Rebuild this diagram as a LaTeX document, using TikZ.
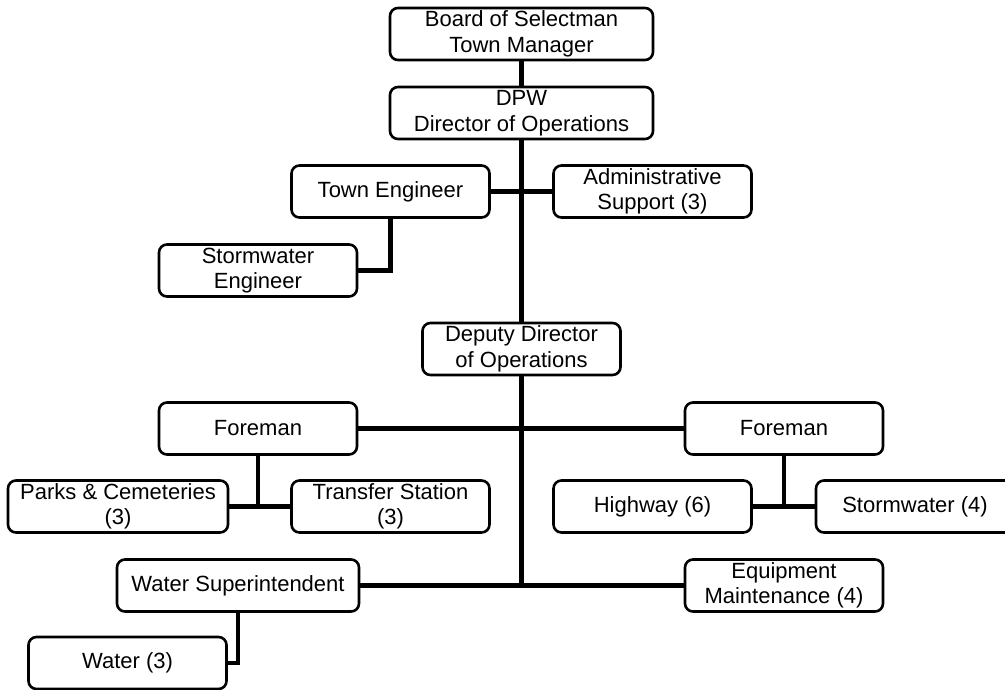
\documentclass[tikz,border=0pt]{standalone}
\usepackage{fontspec}
\setmainfont{Liberation Sans}
\usetikzlibrary{positioning, calc, backgrounds}

\begin{document}
\begin{tikzpicture}[
                x=1pt, y=-1pt,
                font=\fontsize{22}{25.5}\selectfont,
                unit/.style={draw, line width=2.6pt, rounded corners=8pt, fill=white, minimum width=198pt, minimum height=52pt, align=center, inner sep=0pt},
                wide/.style={unit, minimum width=263pt},
                link/.style={line width=4.5pt, line cap=rect}
            ]
                \clip (0,0) rectangle (1005,689);
                \node[wide] (board) at (521.5,34) {Board of Selectman\\Town Manager};
                \node[wide] (dpw) at (521.5,113) {DPW\\Director of Operations};
                \node[unit] (towneng) at (390.5,191.5) {Town Engineer};
                \node[unit] (admin) at (652.5,191.5) {Administrative\\Support (3)};
                \node[unit] (swe) at (258,270.5) {Stormwater\\Engineer};
                \node[unit] (deputy) at (521.5,349) {Deputy Director\\of Operations};
                \node[unit] (foremanl) at (258,428.5) {Foreman};
                \node[unit] (foremanr) at (784,428.5) {Foreman};
                \node[unit, minimum width=220pt] (parks) at (118,506.5) {Parks \& Cemeteries\\(3)};
                \node[unit] (transfer) at (390.5,506.5) {Transfer Station\\(3)};
                \node[unit] (highway) at (652.5,506.5) {Highway (6)};
                \node[unit] (storm) at (915,506.5) {Stormwater (4)};
                \node[unit, minimum width=242pt] (watersup) at (238,585.5) {Water Superintendent};
                \node[unit] (equip) at (784,585.5) {Equipment\\Maintenance (4)};
                \node[unit] (water) at (127.5,663) {Water (3)};
                \begin{scope}[on background layer]
                \draw[link] (board.south) -- (dpw.north);
                \draw[link] (dpw.south) -- (deputy.north);
                \draw[link] (towneng.east) -- (admin.west);
                \draw[link] (towneng.south) |- (swe.east);
                \draw[link] (deputy.south) -- (deputy.south |- watersup.east);
                \draw[link] (foremanl.east) -- (foremanr.west);
                \draw[link] (foremanl.south) |- (parks.east);
                \draw[link] (parks.east) -- (transfer.west);
                \draw[link] (foremanr.south) |- (highway.east);
                \draw[link] (highway.east) -- (storm.west);
                \draw[link] (watersup.east) -- (equip.west);
                \draw[link] (watersup.south) |- (water.east);
                \end{scope}
            \end{tikzpicture}
\end{document}
